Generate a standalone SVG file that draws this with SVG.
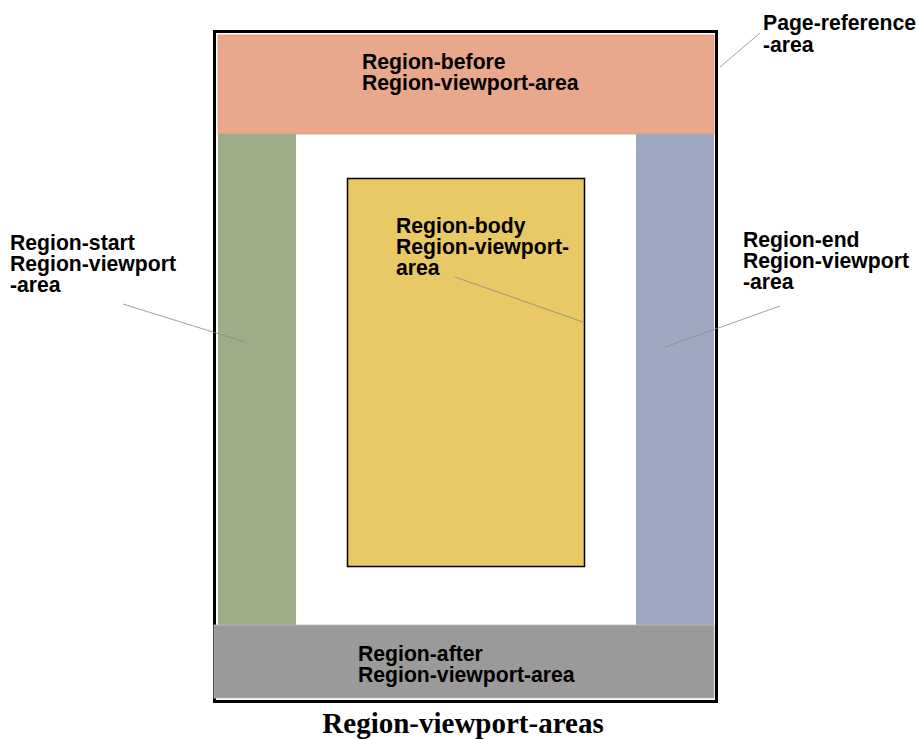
<svg xmlns="http://www.w3.org/2000/svg" width="918" height="740" viewBox="0 0 918 740">
<style>
.lbl{font-family:"Liberation Sans",Arial,sans-serif;font-weight:bold;font-size:21.2px;fill:#000}
.lead{stroke:#888;stroke-width:0.8;fill:none}
.title{font-family:"Liberation Serif","Times New Roman",serif;font-weight:bold;font-size:29px;fill:#000}
</style>
<rect width="918" height="740" fill="#fff"/>
<g id="page-reference-area">
<rect x="214.5" y="31.5" width="502" height="670" fill="#fff" stroke="#000" stroke-width="3"/>
</g>
<g id="region-before">
<rect x="218" y="35" width="496" height="99" fill="#E9A78C" stroke="#D99A80" stroke-width="0.8"/>
<text class="lbl" x="362" y="69">Region-before</text>
<text class="lbl" x="362" y="90">Region-viewport-area</text>
</g>
<g id="region-start">
<rect x="218" y="134" width="78" height="491" fill="#9EAD87"/>
</g>
<g id="region-end">
<rect x="636" y="134" width="78" height="491" fill="#9EA8C0"/>
</g>
<g id="region-after">
<rect x="214" y="625" width="500" height="73" fill="#9A9A9A" stroke="#bbb" stroke-width="0.8"/>
<text class="lbl" x="358" y="661">Region-after</text>
<text class="lbl" x="358" y="682">Region-viewport-area</text>
</g>
<g id="region-body">
<rect x="347.5" y="178.5" width="237" height="388" fill="#E9C965" stroke="#000" stroke-width="1.5"/>
<text class="lbl" x="396" y="233">Region-body</text>
<text class="lbl" x="396" y="254">Region-viewport-</text>
<text class="lbl" x="396" y="275">area</text>
</g>
<g id="label-page-reference">
<text class="lbl" x="763" y="30">Page-reference</text>
<text class="lbl" x="763" y="52">-area</text>
</g>
<g id="label-region-start">
<text class="lbl" x="10" y="250">Region-start</text>
<text class="lbl" x="10" y="271">Region-viewport</text>
<text class="lbl" x="10" y="292">-area</text>
</g>
<g id="label-region-end">
<text class="lbl" x="743" y="247">Region-end</text>
<text class="lbl" x="743" y="268">Region-viewport</text>
<text class="lbl" x="743" y="289">-area</text>
</g>
<g id="connectors">
<line class="lead" x1="720" y1="67" x2="760" y2="33"/>
<line class="lead" x1="123" y1="304" x2="245" y2="342"/>
<line class="lead" x1="780" y1="306" x2="665" y2="347"/>
<line class="lead" x1="455" y1="277" x2="583" y2="322"/>
</g>
<text class="title" x="463" y="733" text-anchor="middle">Region-viewport-areas</text>
</svg>
